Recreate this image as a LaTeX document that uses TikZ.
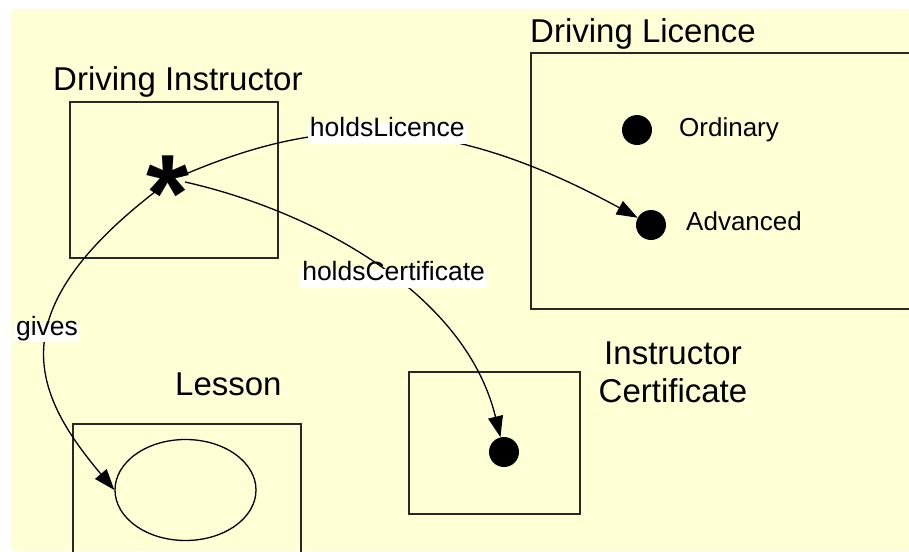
\documentclass[tikz,border=0pt]{standalone}
\usepackage{fontspec}
\setmainfont{Liberation Sans}
\usetikzlibrary{arrows.meta,shapes.geometric}
\definecolor{paper}{RGB}{255,255,213}
\definecolor{edge}{RGB}{40,40,40}
\tikzset{
  frame/.style={draw=edge, line width=1.6pt},
  title/.style={anchor=base west, inner sep=0pt, font=\fontsize{33}{38}\selectfont},
  item/.style={anchor=base west, inner sep=0pt, font=\fontsize{26}{30}\selectfont},
  dot/.style={circle, fill=black, inner sep=0pt, minimum size=30pt},
  rel/.style={draw=black, line width=1.3pt, -{Triangle[length=21pt,width=15pt]}},
  tag/.style={fill=white, inner xsep=2pt, inner ysep=5pt, text height=0.72em,
    text depth=0.2em, font=\fontsize{26.5}{30}\selectfont},
}
\begin{document}
\begin{tikzpicture}[x=1pt,y=-1pt]
\useasboundingbox (0,0) rectangle (909,551);
\clip (0,0) rectangle (909,551);
\fill[white] (0,0) rectangle (909,551);
\fill[paper] (11,9) rectangle (909,551);

% class frames
\draw[frame] (70,102) rectangle (278,258);
\draw[frame] (531,53) rectangle (930,309);
\draw[frame] (73,424) rectangle (301,570);
\draw[frame] (409,372) rectangle (580,514);

% class titles
\node[title] (tInstr) at (53,90) {Driving Instructor};
\node[title] (tLic) at (530,43) {Driving Licence};
\node[title] (tLesson) at (175,395) {Lesson};
\node[anchor=north, align=center, inner sep=0pt, font=\fontsize{33}{38}\selectfont]
  (tCert) at (673,342) {Instructor\\Certificate};

% instances
\node[dot] (ord) at (637,130) {};
\node[dot] (adv) at (651,225) {};
\node[dot] (cert) at (504,452) {};
\node[item] (ordTxt) at (679,136) {Ordinary};
\node[item] (advTxt) at (686,230) {Advanced};
\node[ellipse, draw=black, line width=1.3pt, minimum width=141pt,
  minimum height=101pt, inner sep=0pt] (lesson) at (185.5,490) {};

% the generic instructor
\node[anchor=base, inner sep=0pt, font=\fontsize{110}{110}\bfseries\selectfont]
  (any) at (168,231) {*};
\coordinate (starNE) at (181,176);
\coordinate (starSE) at (185,182);
\coordinate (starSW) at (160,188);

% relations
\draw[rel] (starNE) .. controls (320,116) and (440,110) .. (adv)
  node[tag, pos=0.5] {holdsLicence};
\draw[rel] (starSE) .. controls (310,210) and (465,291) .. (cert)
  node[tag, pos=0.55] {holdsCertificate};
\draw[rel] (starSW) .. controls (0,310) and (30,390) .. (lesson.west)
  node[tag, pos=0.45] {gives};
\end{tikzpicture}
\end{document}
